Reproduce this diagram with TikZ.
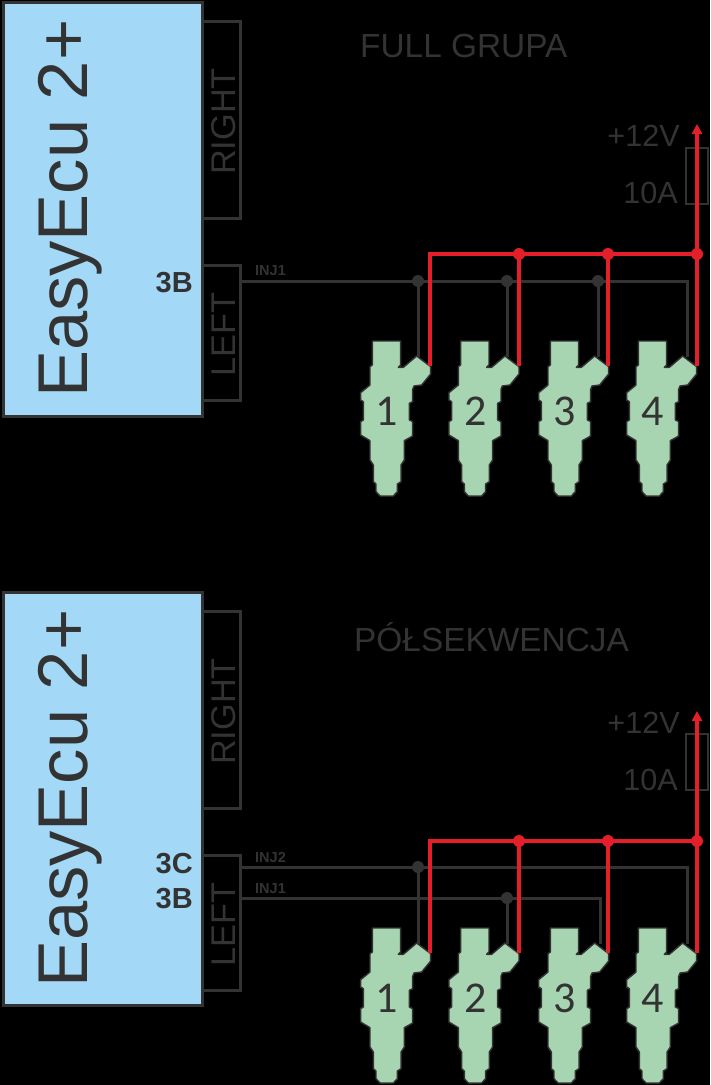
\documentclass[tikz,border=0pt]{standalone}
\usepackage{fontspec}
\setmainfont{Liberation Sans}
\newfontfamily\numfont{Carlito}
\usetikzlibrary{arrows.meta}
\definecolor{ink}{HTML}{333333}
\definecolor{ecublue}{HTML}{A3D9F7}
\definecolor{injgreen}{HTML}{A8D5B1}
\definecolor{wred}{HTML}{E3202A}
\newcommand{\fs}[1]{\fontsize{#1}{#1}\selectfont}
\tikzset{
  x=1pt,y=-1pt,
  ecubox/.style={draw=ink,line width=3pt,fill=ecublue,inner sep=0pt},
  conbox/.style={draw=ink,line width=3pt,inner sep=0pt},
  fusebox/.style={draw=ink,line width=2.5pt,inner sep=0pt,minimum width=22pt,minimum height=56pt},
  txt/.style={inner sep=0pt,text=ink},
  ecutitle/.style={txt,anchor=base west,rotate=90,font=\fs{70.5}},
  contxt/.style={txt,anchor=base west,rotate=90,font=\fs{34.3}},
  hdr/.style={txt,anchor=base west,font=\fs{33.4}},
  pwr/.style={txt,anchor=base east,font=\fs{30.6}},
  pin/.style={txt,anchor=base east,font=\bfseries\fs{29}},
  net/.style={txt,anchor=base west,font=\bfseries\fs{14.5}},
  bwire/.style={draw=ink,line width=3pt,line join=miter},
  rwire/.style={draw=wred,line width=3.5pt,line join=miter},
  bdot/.style={circle,fill=ink,inner sep=0pt,minimum size=12pt},
  rdot/.style={circle,fill=wred,inner sep=0pt,minimum size=12pt},
  pics/injector/.style={code={
    \draw[scale=0.33333,draw=ink,line width=1.4pt,fill=injgreen,line join=round]
      (97,333)--(182,333)--(182,405)--(175,412)--(190,412)--(230,378)--(272,410)--(272,432)--(245,465)
      --(222,468)--(218,478)--(218,515)--(208,520)--(208,570)--(218,575)--(218,618)--(193,632)--(193,690)
      --(183,705)--(183,755)--(172,762)--(172,785)--(160,798)--(120,798)--(108,785)--(108,762)--(100,755)
      --(100,705)--(90,690)--(90,632)--(62,615)--(62,575)--(70,570)--(70,515)--(62,510)--(62,488)
      --(90,465)--(90,410)--(97,405)--cycle;
    \node[txt,anchor=base,font=\numfont\fs{44}] (-num) at (47,195.5) {#1};
  }}
}
\begin{document}
\begin{tikzpicture}
\useasboundingbox (0,0) rectangle (710,1085);
\fill[black] (0,0) rectangle (710,1085);
% --- upper panel ---
\node[conbox,minimum width=39pt,minimum height=197pt] (rightA) at (220.5,119.5) {};
\node[conbox,minimum width=39pt,minimum height=135pt] (leftA) at (220.5,332.5) {};
\node[ecubox,minimum width=199pt,minimum height=414pt] (ecuA) at (102.5,209) {};
\node[ecutitle] (tA) at (87,398) {EasyEcu 2+};
\node[contxt] (trA) at (235,175) {RIGHT};
\node[contxt] (tlA) at (235,377) {LEFT};
\node[pin] (pA) at (193,292) {3B};
\node[net] (nA) at (255,275) {INJ1};
\node[hdr] (hA) at (360,57) {FULL GRUPA};
\node[pwr] (vA) at (680,146) {+12V};
\node[pwr] (aA) at (678,203) {10A};
\node[fusebox] (fA) at (697,176) {};
\pic (ia1) at (340,230) {injector=1};
\pic (ia2) at (428.3,230) {injector=2};
\pic (ia3) at (518,230) {injector=3};
\pic (ia4) at (606,230) {injector=4};
% black wires
\coordinate (wA) at (240,281);
\coordinate (wAe) at (687,281);
\coordinate (ga1) at (418,357);
\coordinate (ga2) at (507,357);
\coordinate (ga3) at (598,357);
\coordinate (ga4) at (687,357);
\node[bdot] (da1) at (418,281) {};
\node[bdot] (da2) at (507,281) {};
\node[bdot] (da3) at (598,281) {};
\draw[bwire] (wA) -- (wAe) -- (ga4);
\draw[bwire] (da1.center) -- (ga1);
\draw[bwire] (da2.center) -- (ga2);
\draw[bwire] (da3.center) -- (ga3);
% red wires
\coordinate (ra1) at (430,366);
\coordinate (ra2) at (519,366);
\coordinate (ra3) at (608,366);
\coordinate (ra4) at (697,366);
\coordinate (rac) at (430,254);
\coordinate (ratip) at (697,124);
\node[rdot] (ra5) at (519,254) {};
\node[rdot] (ra6) at (608,254) {};
\node[rdot] (ra7) at (697,254) {};
\draw[rwire] (ra1) -- (rac) -- (ra7.center);
\draw[rwire] (ra5.center) -- (ra2);
\draw[rwire] (ra6.center) -- (ra3);
\draw[rwire,-{Triangle[width=10pt,length=10pt]}] (ra4) -- (ratip);
% --- lower panel ---
\node[conbox,minimum width=39pt,minimum height=197pt] (rightB) at (221,709.5) {};
\node[conbox,minimum width=39pt,minimum height=135pt] (leftB) at (221,922.5) {};
\node[ecubox,minimum width=199pt,minimum height=413pt] (ecuB) at (102.5,799) {};
\node[ecutitle] (tB) at (87,988) {EasyEcu 2+};
\node[contxt] (trB) at (235,765) {RIGHT};
\node[contxt] (tlB) at (235,967) {LEFT};
\node[pin] (pB1) at (193,873) {3C};
\node[pin] (pB2) at (193,908) {3B};
\node[net] (nB1) at (255,862) {INJ2};
\node[net] (nB2) at (255,893) {INJ1};
\node[hdr] (hB) at (354,651) {PÓŁSEKWENCJA};
\node[pwr] (vB) at (680,733) {+12V};
\node[pwr] (aB) at (678,790) {10A};
\node[fusebox] (fB) at (697,762) {};
\pic (ib1) at (340,817) {injector=1};
\pic (ib2) at (428.3,817) {injector=2};
\pic (ib3) at (518,817) {injector=3};
\pic (ib4) at (606,817) {injector=4};
\coordinate (wB2) at (240,867);
\coordinate (wB2e) at (687,867);
\coordinate (wB1) at (240,898);
\coordinate (wB1e) at (600,898);
\coordinate (gb1) at (418,944);
\coordinate (gb2) at (507,944);
\coordinate (gb3) at (600,944);
\coordinate (gb4) at (687,944);
\node[bdot] (db1) at (418,867) {};
\node[bdot] (db2) at (507,898) {};
\draw[bwire] (wB2) -- (wB2e) -- (gb4);
\draw[bwire] (wB1) -- (wB1e) -- (gb3);
\draw[bwire] (db1.center) -- (gb1);
\draw[bwire] (db2.center) -- (gb2);
\coordinate (rb1) at (430,953);
\coordinate (rb2) at (519,953);
\coordinate (rb3) at (608,953);
\coordinate (rb4) at (697,953);
\coordinate (rbc) at (430,841);
\coordinate (rbtip) at (697,711);
\node[rdot] (rb5) at (519,841) {};
\node[rdot] (rb6) at (608,841) {};
\node[rdot] (rb7) at (697,841) {};
\draw[rwire] (rb1) -- (rbc) -- (rb7.center);
\draw[rwire] (rb5.center) -- (rb2);
\draw[rwire] (rb6.center) -- (rb3);
\draw[rwire,-{Triangle[width=10pt,length=10pt]}] (rb4) -- (rbtip);
\end{tikzpicture}
\end{document}
